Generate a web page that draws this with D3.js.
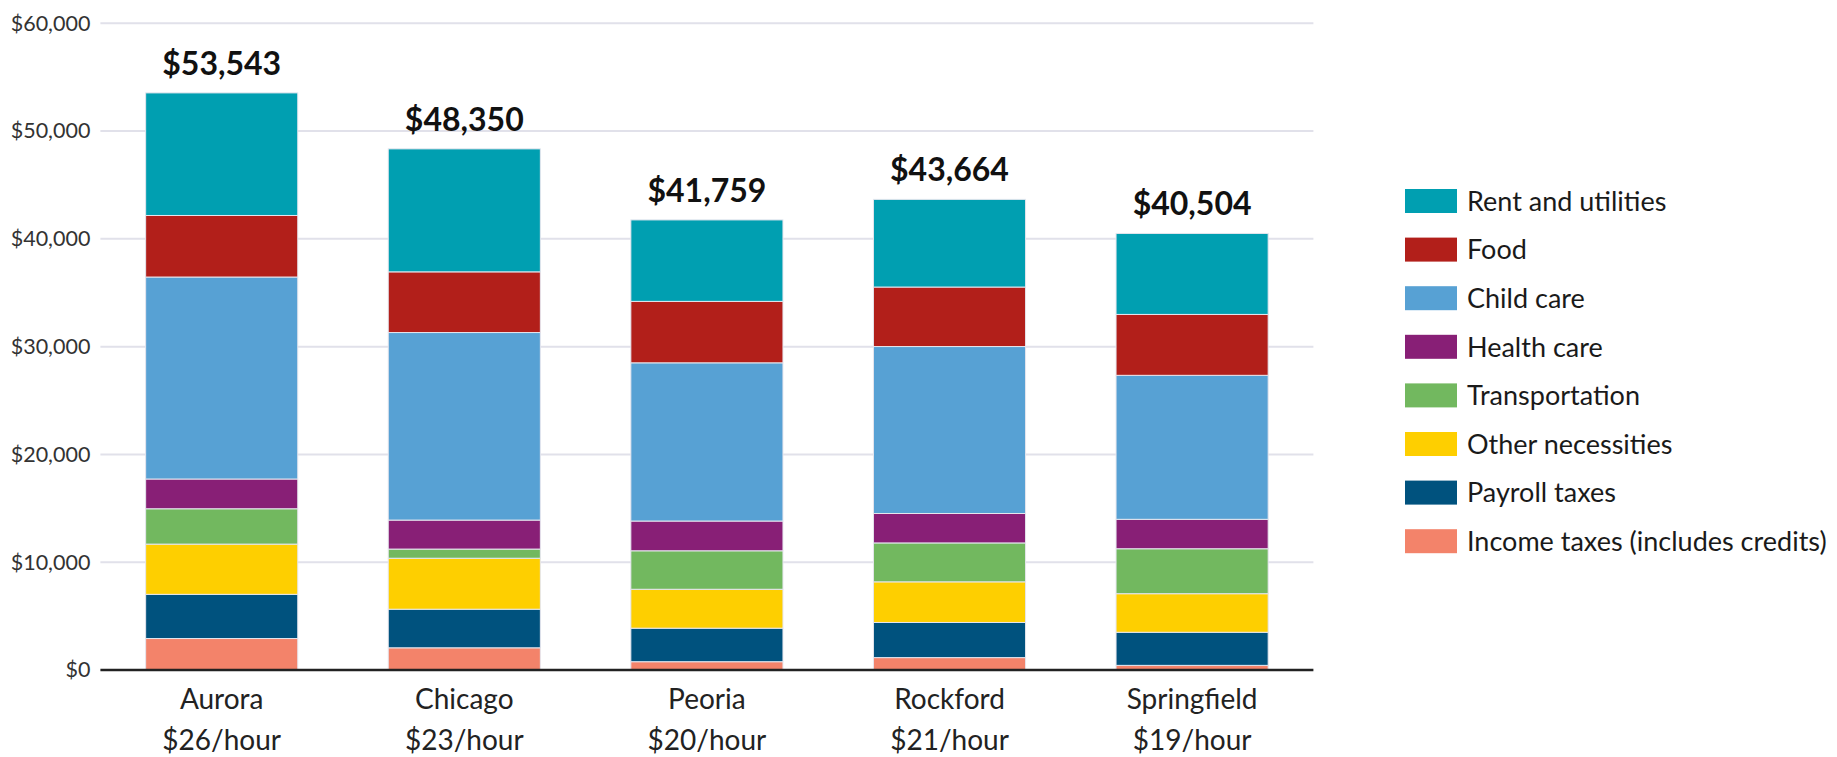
<!DOCTYPE html>
<html>
<head>
<meta charset="utf-8">
<script src="https://cdn.jsdelivr.net/npm/d3@7"></script>
<style>
  body { margin: 0; background: #fff; }
  svg text { font-family: Lato, "Open Sans", sans-serif; }
</style>
</head>
<body>
<div id="chart"></div>
<script>
// cities and hourly wage needed
const cities = ["Aurora", "Chicago", "Peoria", "Rockford", "Springfield"];
const wages = ["$26/hour", "$23/hour", "$20/hour", "$21/hour", "$19/hour"];
const totals = [53543, 48350, 41759, 43664, 40504];

// budget items, bottom of the stack first
const incomeTaxes = [2920, 2060, 770, 1150, 430];
const payrollTaxes = [4100, 3580, 3110, 3260, 3070];
const otherNecessities = [4660, 4730, 3610, 3770, 3580];
const transportation = [3280, 850, 3570, 3610, 4170];
const healthCare = [2760, 2690, 2760, 2730, 2730];
const childCare = [18740, 17400, 14680, 15490, 13360];
const food = [5710, 5630, 5700, 5520, 5650];
const rentUtilities = [11373, 11410, 7559, 8134, 7514];

const seriesKeys = ["income", "payroll", "other", "transport", "health", "child", "food", "rent"];
const seriesLabels = {
  rent: "Rent and utilities",
  food: "Food",
  child: "Child care",
  health: "Health care",
  transport: "Transportation",
  other: "Other necessities",
  payroll: "Payroll taxes",
  income: "Income taxes (includes credits)"
};
const seriesColors = {
  rent: "#009fb1",
  food: "#b21f1a",
  child: "#57a1d4",
  health: "#881f76",
  transport: "#72b85f",
  other: "#fecf00",
  payroll: "#00527e",
  income: "#f3836a"
};
const legendOrder = ["rent", "food", "child", "health", "transport", "other", "payroll", "income"];
const yTicks = [0, 10000, 20000, 30000, 40000, 50000, 60000];

const rows = cities.map((c, i) => ({
  city: c,
  income: incomeTaxes[i],
  payroll: payrollTaxes[i],
  other: otherNecessities[i],
  transport: transportation[i],
  health: healthCare[i],
  child: childCare[i],
  food: food[i],
  rent: rentUtilities[i]
}));

const W = 1837, H = 757;
const plot = { left: 100.4, right: 1313.4, top: 23.3, bottom: 670 };

const svg = d3.select("#chart").append("svg")
  .attr("width", W)
  .attr("height", H);

const x = d3.scaleBand()
  .domain(cities)
  .range([plot.left, plot.right])
  .paddingInner(0.373)
  .paddingOuter(0.1865);

const y = d3.scaleLinear()
  .domain([0, 60000])
  .range([plot.bottom, plot.top]);

// gridlines
svg.append("g")
  .selectAll("line")
  .data(yTicks.filter(t => t > 0))
  .enter()
  .append("line")
  .attr("x1", plot.left)
  .attr("x2", plot.right)
  .attr("y1", d => y(d))
  .attr("y2", d => y(d))
  .style("stroke", "#e1e1ea")
  .style("stroke-width", 2);

// y axis labels
const yAxis = svg.append("g")
  .attr("transform", `translate(${plot.left},0)`)
  .call(d3.axisLeft(y).tickValues(yTicks).tickFormat(d3.format("$,")).tickSize(0).tickPadding(10));
yAxis.select(".domain").remove();
yAxis.selectAll("text")
  .style("font-size", "21.5px")
  .style("fill", "#333");

// stacked bars
const stack = d3.stack().keys(seriesKeys)(rows);

svg.append("g")
  .selectAll("g")
  .data(stack)
  .enter()
  .append("g")
  .style("fill", d => seriesColors[d.key])
  .selectAll("rect")
  .data(d => d)
  .enter()
  .append("rect")
  .attr("x", d => x(d.data.city))
  .attr("y", d => y(d[1]))
  .attr("width", x.bandwidth())
  .attr("height", d => y(d[0]) - y(d[1]))
  .style("stroke", "#e6e6ee")
  .style("stroke-width", 1);

// totals above bars
svg.append("g")
  .selectAll("text")
  .data(cities)
  .enter()
  .append("text")
  .attr("x", d => x(d) + x.bandwidth() / 2)
  .attr("y", (d, i) => y(totals[i]) - 18)
  .attr("text-anchor", "middle")
  .style("font-size", "32px")
  .style("font-weight", "bold")
  .style("fill", "#111")
  .text((d, i) => d3.format("$,")(totals[i]));

// x axis line
svg.append("line")
  .attr("x1", plot.left)
  .attr("x2", plot.right)
  .attr("y1", y(0))
  .attr("y2", y(0))
  .style("stroke", "#222")
  .style("stroke-width", 2.5);

// category labels, two lines
const xl = svg.append("g")
  .selectAll("text")
  .data(cities)
  .enter()
  .append("text")
  .attr("text-anchor", "middle")
  .style("font-size", "28px")
  .style("fill", "#222");
xl.append("tspan")
  .attr("x", d => x(d) + x.bandwidth() / 2)
  .attr("y", 709)
  .text(d => d);
xl.append("tspan")
  .attr("x", d => x(d) + x.bandwidth() / 2)
  .attr("y", 750)
  .text((d, i) => wages[i]);

// legend
const legend = svg.append("g")
  .attr("transform", "translate(1405,189)");

const item = legend.selectAll("g")
  .data(legendOrder)
  .enter()
  .append("g")
  .attr("transform", (d, i) => `translate(0,${i * 48.6})`);

item.append("rect")
  .attr("width", 52)
  .attr("height", 24)
  .style("fill", d => seriesColors[d]);

item.append("text")
  .attr("x", 62)
  .attr("y", 12)
  .attr("dy", "0.36em")
  .style("font-size", "27px")
  .style("fill", "#1a1a1a")
  .text(d => seriesLabels[d]);
</script>
</body>
</html>
